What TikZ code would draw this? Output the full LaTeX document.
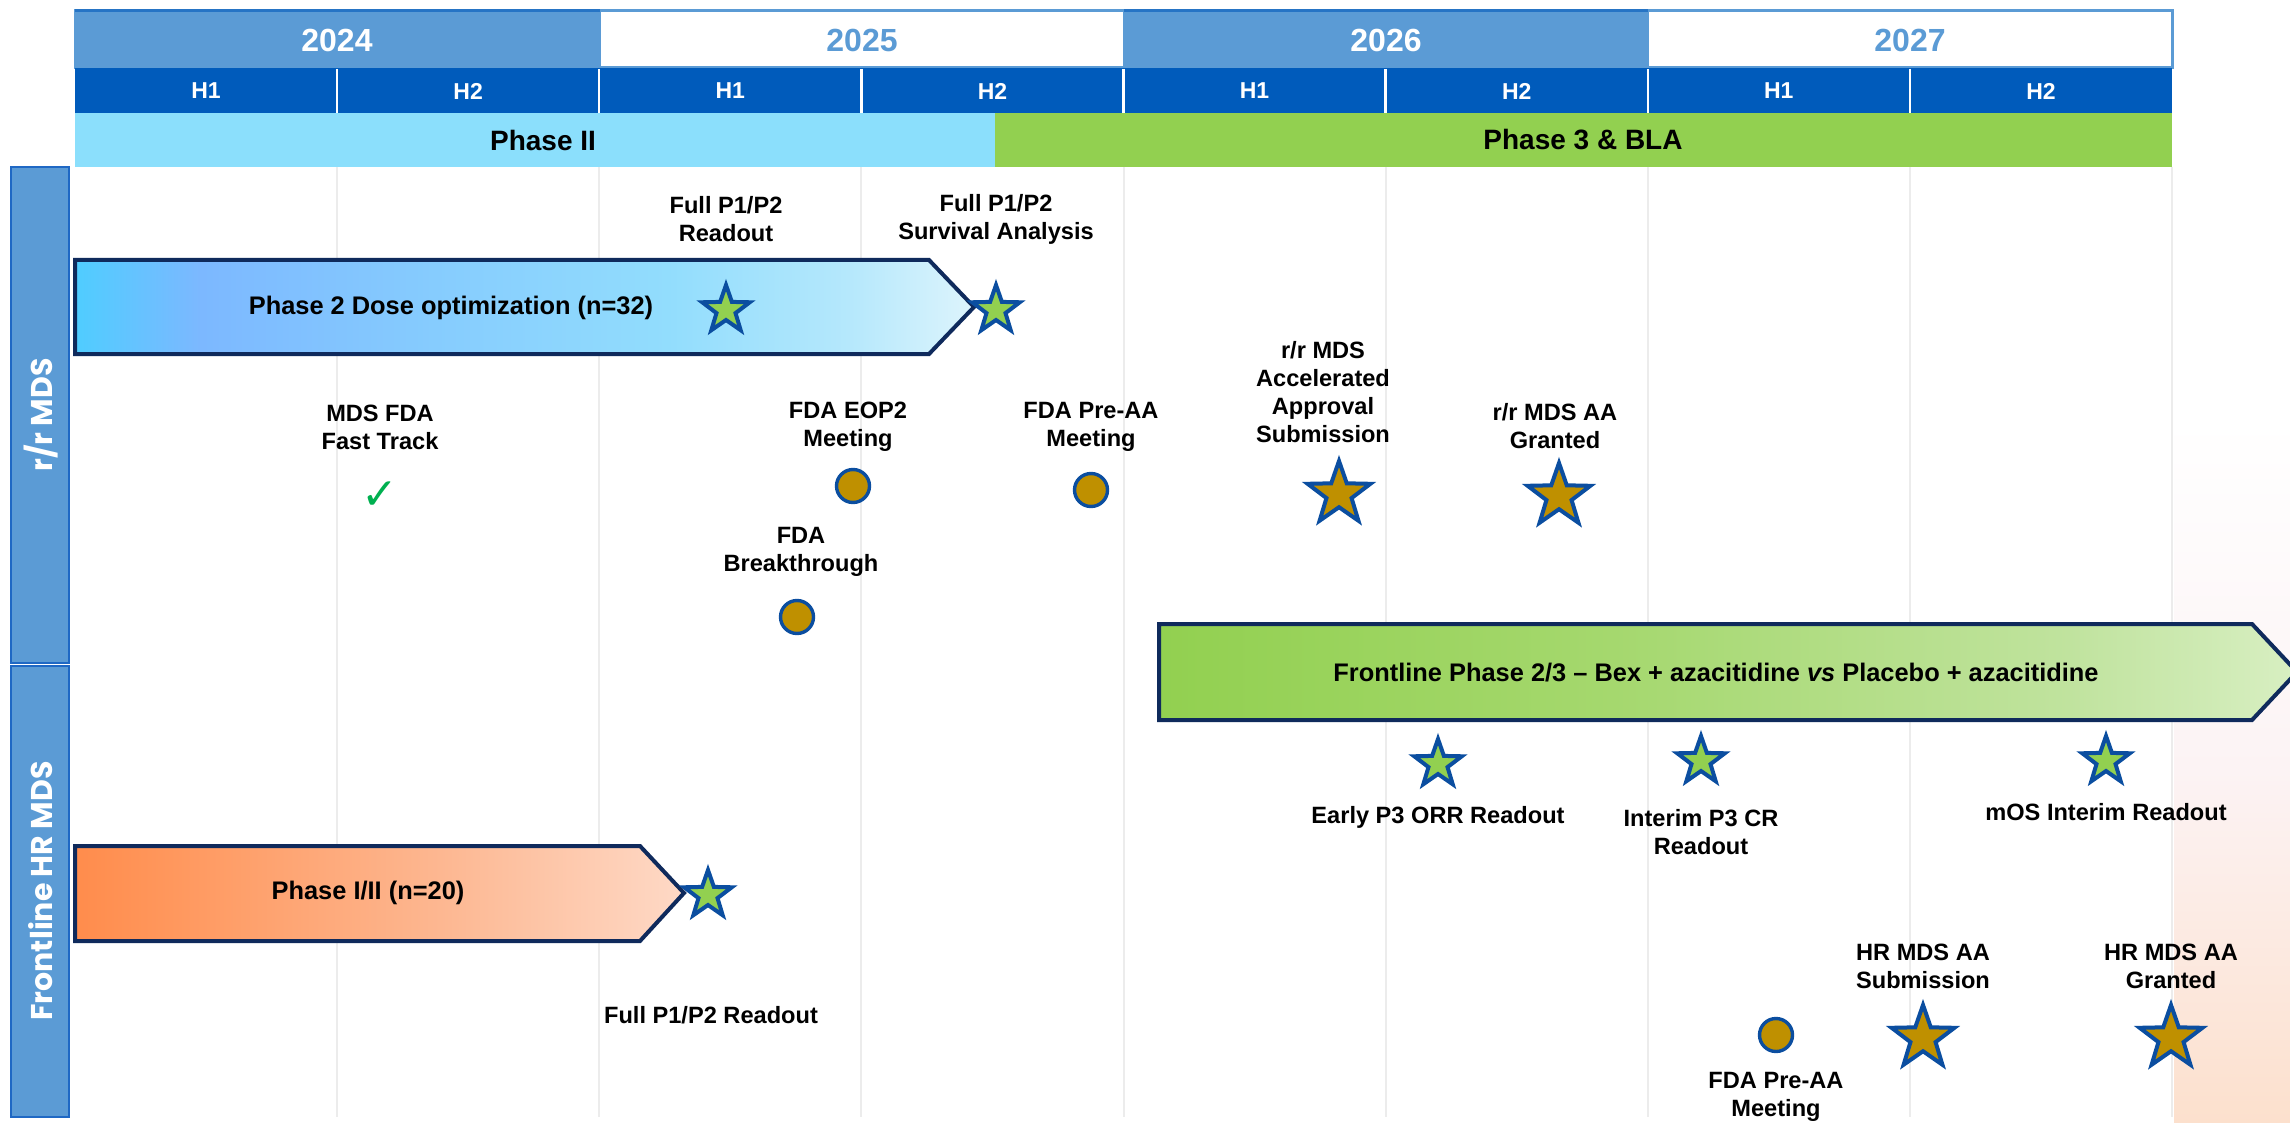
\documentclass[tikz,border=0pt]{standalone}
\usepackage{fontspec}
\setmainfont{Liberation Sans}
\newfontfamily\lanefont{Poppins}
\newfontfamily\symfont{DejaVu Sans}
\usetikzlibrary{shapes.geometric}
\definecolor{yearblue}{HTML}{5B9BD5}
\definecolor{hblue}{HTML}{005BBB}
\definecolor{phasecyan}{HTML}{8BDFFC}
\definecolor{phasegreen}{HTML}{92D050}
\definecolor{navy}{HTML}{0F2A5C}
\definecolor{starblue}{HTML}{0B4EA0}
\definecolor{gold}{HTML}{BF9000}
\definecolor{checkgreen}{HTML}{00B050}
\definecolor{gridgray}{HTML}{ECECEC}
\definecolor{laneedge}{HTML}{1F68C4}
\definecolor{peach}{HTML}{FCE0CD}
\definecolor{blush}{HTML}{FCF3F4}
\definecolor{dA}{HTML}{4FCDFF}
\definecolor{dB}{HTML}{7CB8FF}
\definecolor{dC}{HTML}{86CCFE}
\definecolor{dD}{HTML}{92DDFD}
\definecolor{dE}{HTML}{B5E8FC}
\definecolor{dF}{HTML}{DDF4FC}
\definecolor{oA}{HTML}{FF8C4C}
\definecolor{oB}{HTML}{FF965B}
\definecolor{oC}{HTML}{FDB791}
\definecolor{oD}{HTML}{FED9C6}
\definecolor{gA}{HTML}{92D050}
\definecolor{gB}{HTML}{A5D86E}
\definecolor{gC}{HTML}{C0E39E}
\definecolor{gD}{HTML}{D8EFC2}
\pgfdeclarehorizontalshading{doseshade}{100bp}{color(0bp)=(dA); color(25bp)=(dA); color(32bp)=(dB); color(45bp)=(dC); color(58bp)=(dD); color(68bp)=(dE); color(75bp)=(dF); color(100bp)=(dF)}
\pgfdeclarehorizontalshading{orangeshade}{100bp}{color(0bp)=(oA); color(25bp)=(oA); color(32bp)=(oB); color(55bp)=(oC); color(75bp)=(oD); color(100bp)=(oD)}
\pgfdeclarehorizontalshading{greenshade}{100bp}{color(0bp)=(gA); color(25bp)=(gA); color(45bp)=(gB); color(65bp)=(gC); color(75bp)=(gD); color(100bp)=(gD)}
\pgfdeclareverticalshading{bgshade}{100bp}{color(0bp)=(peach); color(25bp)=(peach); color(50bp)=(blush); color(75bp)=(white); color(100bp)=(white)}
\begin{document}
\begin{tikzpicture}[x=0.5pt,y=-0.5pt,
  lbl/.style={font=\bfseries\fontsize{11.8}{14}\selectfont, align=center, inner sep=0pt, text=black},
  yeartxt/.style={font=\bfseries\fontsize{16}{18}\selectfont, inner sep=0pt},
  htxt/.style={font=\bfseries\fontsize{11.5}{13}\selectfont, text=white, inner sep=0pt},
  phasetxt/.style={font=\bfseries\fontsize{14}{16}\selectfont, inner sep=0pt},
  lanetxt/.style={font=\lanefont\bfseries\fontsize{15}{17}\selectfont, text=white, inner sep=0pt, rotate=90},
  bartxt/.style={font=\bfseries\fontsize{12.7}{15}\selectfont, inner sep=0pt},
  gstar/.style={star, star points=5, star point ratio=2.5, fill=phasegreen, draw=starblue, line width=2pt, minimum size=25pt, inner sep=0pt},
  ostar/.style={gstar, fill=gold, minimum size=33pt},
  dot/.style={circle, fill=gold, draw=starblue, line width=1.7pt, minimum size=16.5pt, inner sep=0pt},
  barline/.style={draw=navy, line width=2pt, line join=miter},
  gridline/.style={draw=gridgray, line width=1pt},
]
\useasboundingbox (0,0) rectangle (2290,1123);
\fill[white] (0,0) rectangle (2290,1123);
% faint background tint at right edge
\shade[shading=bgshade] (2174,420) rectangle (2290,1123);

% ---- year row ----
\fill[yearblue] (75,11) rectangle (600,68);
\fill[yearblue] (1124,11) rectangle (1648,68);
\draw[yearblue, line width=1.5pt] (75,11) rectangle (2172,68);
\draw[yearblue, line width=1pt] (600,11) -- (600,68) (1124,11) -- (1124,68) (1648,11) -- (1648,68);
\draw[hblue!85, line width=1.5pt] (75,11) -- (600,11) (1124,11) -- (1648,11);
\node[yeartxt, text=white] (y2024) at (337,40) {2024};
\node[yeartxt, text=yearblue] (y2025) at (862,40) {2025};
\node[yeartxt, text=white] (y2026) at (1386,40) {2026};
\node[yeartxt, text=yearblue] (y2027) at (1910,40) {2027};

% ---- half-year row ----
\fill[hblue] (75,68) rectangle (2172,113);
\foreach \k in {1,...,7} \draw[white, line width=1.2pt] ({75+262.125*\k},69) -- ({75+262.125*\k},113);
\foreach \k/\t in {0/H1,1/H2,2/H1,3/H2,4/H1,5/H2,6/H1,7/H2}
  \node[htxt] (h\k) at ({75+262.125*(\k+0.5)},91) {\t};

% ---- phase row ----
\fill[phasecyan] (75,113) rectangle (995,167);
\fill[phasegreen] (995,113) rectangle (2172,167);
\node[phasetxt] (ph2) at (543,140) {Phase II};
\node[phasetxt] (ph3) at (1583,140) {Phase 3 \& BLA};

% ---- grid ----
\fill[white] (75,167) rectangle (2172,1117);
\foreach \k in {1,...,8} \draw[gridline] ({75+262.125*\k},167) -- ({75+262.125*\k},1117);

% ---- lane labels ----
\draw[fill=yearblue, draw=laneedge, line width=1pt] (11,167) rectangle (69,663);
\draw[fill=yearblue, draw=laneedge, line width=1pt] (11,666) rectangle (69,1117);
\node[lanetxt] (lane1) at (41,415) {r/r MDS};
\node[lanetxt] (lane2) at (41,891) {Frontline HR MDS};

% ---- r/r MDS: Phase 2 dose optimization ----
\shade[shading=doseshade] (75,260) -- (929,260) -- (974,307) -- (929,354) -- (75,354) -- cycle;
\draw[barline] (75,260) -- (929,260) -- (974,307) -- (929,354) -- (75,354) -- cycle;
\node[bartxt] (dosetxt) at (451,308) {Phase 2 Dose optimization (n=32)};
\node[gstar] (s1) at (726,310) {};
\node[gstar] (s2) at (996,310) {};
\node[lbl] (l1) at (726,219) {Full P1/P2\\Readout};
\node[lbl] (l2) at (996,219) {Full P1/P2\\Survival Analysis};

% ---- r/r MDS regulatory ----
\node[lbl] (ftlbl) at (380,427) {MDS FDA\\Fast Track};
\node[font=\symfont\fontsize{22}{22}\selectfont, text=checkgreen, inner sep=0pt] (check) at (380,496) {✓};
\node[lbl] (eop2lbl) at (848,427) {FDA EOP2\\Meeting};
\node[dot] (eop2) at (853,486) {};
\node[lbl] (preaalbl) at (1091,427) {FDA Pre-AA\\Meeting};
\node[dot] (preaa) at (1091,490) {};
\node[lbl] (btlbl) at (801,552) {FDA\\Breakthrough};
\node[dot] (bt) at (797,617) {};
\node[lbl] (aasublbl) at (1323,392) {r/r MDS\\Accelerated\\Approval\\Submission};
\node[ostar] (aasub) at (1339,494) {};
\node[lbl] (aagrlbl) at (1555,426) {r/r MDS AA\\Granted};
\node[ostar] (aagr) at (1559,496) {};

% ---- Frontline Phase 2/3 ----
\shade[shading=greenshade] (1159,624) -- (2252,624) -- (2297,672) -- (2252,720) -- (1159,720) -- cycle;
\draw[barline] (1159,624) -- (2252,624) -- (2297,672) -- (2252,720) -- (1159,720) -- cycle;
\node[bartxt] (fltxt) at (1716,673) {Frontline Phase 2/3 – Bex + azacitidine \textit{vs} Placebo + azacitidine};
\node[gstar] (p3orr) at (1438,764) {};
\node[gstar] (p3cr) at (1701,761) {};
\node[gstar] (mos) at (2106,761) {};
\node[lbl] (p3orrlbl) at (1438,817) {Early P3 ORR Readout};
\node[lbl] (p3crlbl) at (1701,832) {Interim P3 CR\\Readout};
\node[lbl] (moslbl) at (2106,812) {mOS Interim Readout};

% ---- Frontline HR MDS: Phase I/II ----
\shade[shading=orangeshade] (75,846) -- (640,846) -- (684,893) -- (640,941) -- (75,941) -- cycle;
\draw[barline] (75,846) -- (640,846) -- (684,893) -- (640,941) -- (75,941) -- cycle;
\node[bartxt] (p12txt) at (368,893) {Phase I/II (n=20)};
\node[gstar] (p12star) at (708,895) {};
\node[lbl] (p12lbl) at (711,1015) {Full P1/P2 Readout};

% ---- Frontline regulatory ----
\node[dot] (hrpreaa) at (1776,1035) {};
\node[lbl] (hrpreaalbl) at (1776,1097) {FDA Pre-AA\\Meeting};
\node[lbl] (hrsublbl) at (1923,966) {HR MDS AA\\Submission};
\node[ostar] (hrsub) at (1923,1038) {};
\node[lbl] (hrgrlbl) at (2171,966) {HR MDS AA\\Granted};
\node[ostar] (hrgr) at (2171,1038) {};
\end{tikzpicture}
\end{document}
